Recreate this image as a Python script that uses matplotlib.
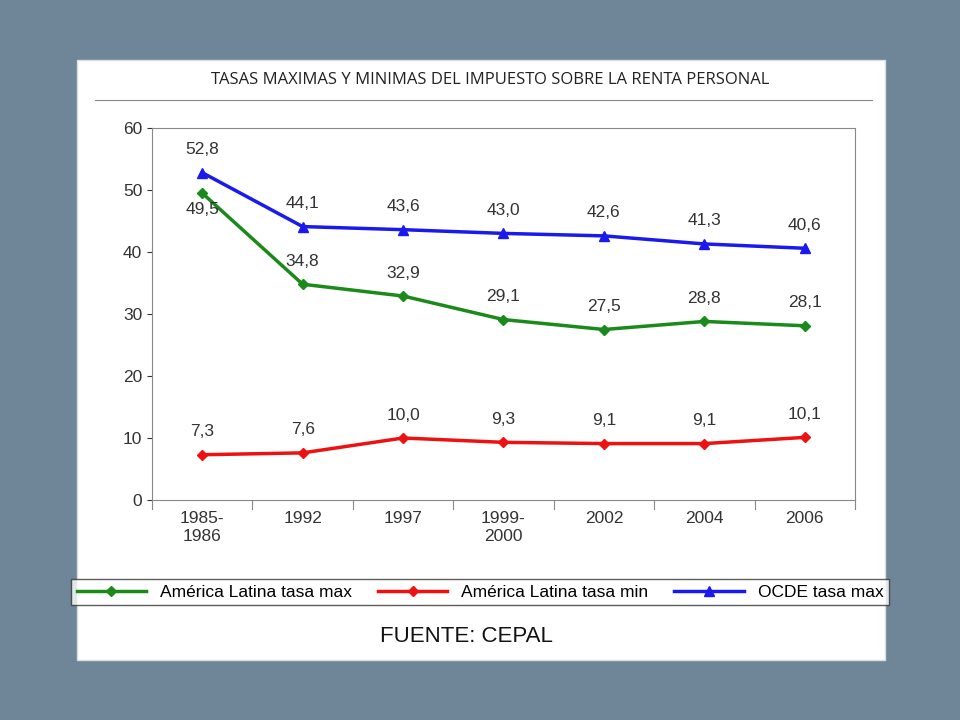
import matplotlib.pyplot as plt
from matplotlib.patches import Rectangle

plt.rcParams["font.family"] = "Liberation Sans"

years = ["1985-\n1986", "1992", "1997", "1999-\n2000", "2002", "2004", "2006"]
al_max = [49.5, 34.8, 32.9, 29.1, 27.5, 28.8, 28.1]
al_min = [7.3, 7.6, 10.0, 9.3, 9.1, 9.1, 10.1]
ocde_max = [52.8, 44.1, 43.6, 43.0, 42.6, 41.3, 40.6]
y_ticks = [0, 10, 20, 30, 40, 50, 60]

fig = plt.figure(figsize=(9.6, 7.2), dpi=100)
fig.patch.set_facecolor("#6e8698")

# white card
card = Rectangle((77 / 960, 1 - 660 / 720), 808 / 960, 600 / 720,
                 transform=fig.transFigure, facecolor="white",
                 edgecolor="#dddddd", zorder=-5)
fig.add_artist(card)
fig.text(490 / 960, 1 - 80 / 720, "TASAS MAXIMAS Y MINIMAS DEL IMPUESTO SOBRE LA RENTA PERSONAL",
         ha="center", va="center", fontsize=12, family="Open Sans", color="#222222")
fig.add_artist(plt.Line2D([95 / 960, 872 / 960], [1 - 100 / 720] * 2, color="#888888", lw=0.8))

ax = fig.add_axes([152 / 960, 1 - 500 / 720, 703 / 960, 372 / 720])
ax.set_zorder(5)
ax.patch.set_alpha(0)
x = list(range(len(years)))
ax.plot(x, al_max, color="#1a8a1a", marker="D", ms=5, lw=2.5, label="América Latina tasa max")
ax.plot(x, al_min, color="#ee1111", marker="D", ms=5, lw=2.5, label="América Latina tasa min")
ax.plot(x, ocde_max, color="#1a1aee", marker="^", ms=7, lw=2.5, label="OCDE tasa max")

def fmt(v):
    return f"{v:.1f}".replace(".", ",")

for i, v in enumerate(ocde_max):
    ax.text(i, v + 2.5, fmt(v), ha="center", va="bottom", fontsize=12.5, color="#333333")
for i, v in enumerate(al_max):
    if i == 0:
        ax.text(i, v - 1.5, fmt(v), ha="center", va="top", fontsize=12.5, color="#333333")
    else:
        ax.text(i, v + 2.5, fmt(v), ha="center", va="bottom", fontsize=12.5, color="#333333")
for i, v in enumerate(al_min):
    ax.text(i, v + 2.5, fmt(v), ha="center", va="bottom", fontsize=12.5, color="#333333")

ax.set_xlim(-0.5, len(years) - 0.5)
ax.set_ylim(0, 60)
ax.set_yticks(y_ticks)
ax.set_xticks(x)
ax.set_xticklabels(years, fontsize=12.5, color="#333333")
ax.tick_params(axis="y", labelsize=12.5, colors="#333333")
ax.tick_params(axis="x", length=0, pad=8)
for i in range(len(years) + 1):
    ax.plot([i - 0.5, i - 0.5], [0, -1.5], color="#888888", lw=0.8, clip_on=False)
for s in ax.spines.values():
    s.set_color("#888888")

leg = fig.legend(loc="center", bbox_to_anchor=(480 / 960, 1 - 592 / 720), ncol=3,
                 fontsize=12.5, frameon=True, fancybox=False, edgecolor="#333333",
                 handlelength=4, columnspacing=1.5, borderpad=0.3)
leg.set_zorder(6)

fig.text(380 / 960, 1 - 637 / 720, "FUENTE: CEPAL", ha="left", va="center",
         fontsize=16, color="#111111")

fig.savefig("out.png", dpi=100, facecolor=fig.get_facecolor())
